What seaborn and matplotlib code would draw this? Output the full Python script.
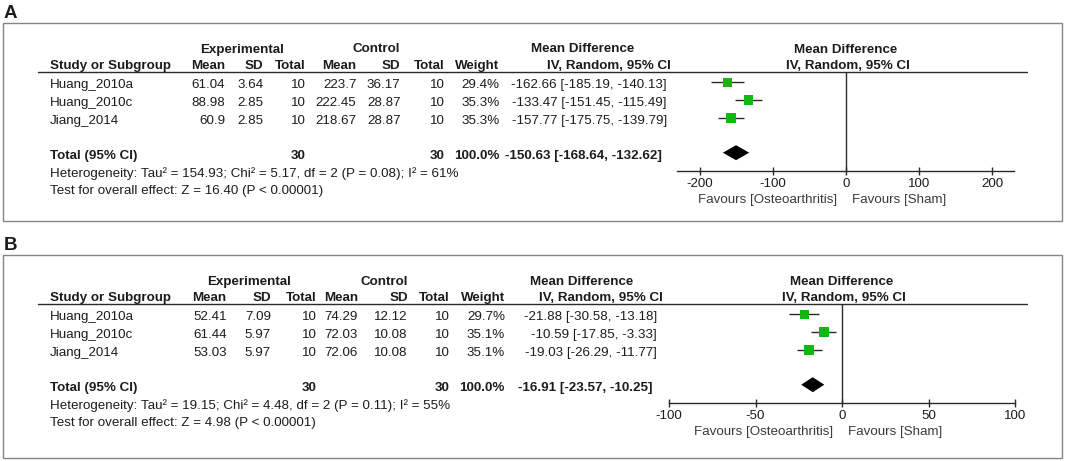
import numpy as np
import seaborn as sns
import matplotlib.pyplot as plt

sns.set_style("white")
plt.rcParams["font.family"] = ["Liberation Sans", "DejaVu Sans"]

W, H = 1065, 461
TXT = "#1c1c1c"
GREEN = "#12b812"
LINE = "#2a2a2a"
FS = 9.6

studies = ["Huang_2010a", "Huang_2010c", "Jiang_2014"]

# panel A
a_exp_mean = [61.04, 88.98, 60.9]
a_exp_sd = [3.64, 2.85, 2.85]
a_exp_n = [10, 10, 10]
a_ctl_mean = [223.7, 222.45, 218.67]
a_ctl_sd = [36.17, 28.87, 28.87]
a_ctl_n = [10, 10, 10]
a_weight = [29.4, 35.3, 35.3]
a_total_weight = 100.0
a_md = [-162.66, -133.47, -157.77]
a_lo = [-185.19, -151.45, -175.75]
a_hi = [-140.13, -115.49, -139.79]
a_total = [-150.63, -168.64, -132.62]
a_het = "Heterogeneity: Tau\u00b2 = 154.93; Chi\u00b2 = 5.17, df = 2 (P = 0.08); I\u00b2 = 61%"
a_test = "Test for overall effect: Z = 16.40 (P < 0.00001)"
a_ticks = [-200, -100, 0, 100, 200]

# panel B
b_exp_mean = [52.41, 61.44, 53.03]
b_exp_sd = [7.09, 5.97, 5.97]
b_exp_n = [10, 10, 10]
b_ctl_mean = [74.29, 72.03, 72.06]
b_ctl_sd = [12.12, 10.08, 10.08]
b_ctl_n = [10, 10, 10]
b_weight = [29.7, 35.1, 35.1]
b_total_weight = 100.0
b_md = [-21.88, -10.59, -19.03]
b_lo = [-30.58, -17.85, -26.29]
b_hi = [-13.18, -3.33, -11.77]
b_total = [-16.91, -23.57, -10.25]
b_het = "Heterogeneity: Tau\u00b2 = 19.15; Chi\u00b2 = 4.48, df = 2 (P = 0.11); I\u00b2 = 55%"
b_test = "Test for overall effect: Z = 4.98 (P < 0.00001)"
b_ticks = [-100, -50, 0, 50, 100]

fig = plt.figure(figsize=(W / 100, H / 100), dpi=100)
bg = fig.add_axes([0, 0, 1, 1])
bg.set_xlim(0, W)
bg.set_ylim(H, 0)
bg.axis("off")


def txt(x, y, s, ha="left", bold=False, size=FS):
    bg.text(x, y, s, ha=ha, va="baseline", fontsize=size, color=TXT,
            fontweight="bold" if bold else "normal")


def draw_panel(label, dy, box_bottom, cols, exp_mean, exp_sd, exp_n, ctl_mean, ctl_sd,
               ctl_n, weight, total_weight, md, lo, hi, total, het, test, ticks,
               ax_px, xlim):
    # frame + panel letter
    bg.add_patch(plt.Rectangle((2.5, 22.7 + dy), 1059.5, box_bottom - 22.7 - dy,
                               fill=False, ec="#858585", lw=1.0))
    txt(4, 17.5 + dy, label, bold=True, size=13.5)

    # headers
    txt(cols["exp_head"], 52.5 + dy, "Experimental", ha="center", bold=True)
    txt(cols["ctl_head"], 52.5 + dy, "Control", ha="center", bold=True)
    txt(cols["md_head"], 52.5 + dy, "Mean Difference", ha="center", bold=True)
    hy = 69 + dy
    txt(49.5, hy, "Study or Subgroup", bold=True)
    for key, name in [("exp_mean", "Mean"), ("exp_sd", "SD"), ("exp_n", "Total"),
                      ("ctl_mean", "Mean"), ("ctl_sd", "SD"), ("ctl_n", "Total"),
                      ("weight", "Weight"), ("iv", "IV, Random, 95% CI")]:
        txt(cols[key], hy, name, ha="right", bold=True)
    bg.plot([38, 1027], [72 + dy, 72 + dy], color=LINE, lw=1.0)

    rows = [82.3 + dy + 18 * i for i in range(len(studies))]
    total_y = 152.7 + dy
    for i, y in enumerate(rows):
        b = y + 6
        txt(49.5, b, studies[i])
        txt(cols["exp_mean"], b, str(exp_mean[i]), ha="right")
        txt(cols["exp_sd"], b, str(exp_sd[i]), ha="right")
        txt(cols["exp_n"], b, str(exp_n[i]), ha="right")
        txt(cols["ctl_mean"], b, str(ctl_mean[i]), ha="right")
        txt(cols["ctl_sd"], b, str(ctl_sd[i]), ha="right")
        txt(cols["ctl_n"], b, str(ctl_n[i]), ha="right")
        txt(cols["weight"], b, f"{weight[i]:.1f}%", ha="right")
        txt(cols["ci"], b, f"{md[i]:.2f} [{lo[i]:.2f}, {hi[i]:.2f}]", ha="right")

    b = total_y + 6
    txt(49.5, b, "Total (95% CI)", bold=True)
    txt(cols["exp_n"], b, str(sum(exp_n)), ha="right", bold=True)
    txt(cols["ctl_n"], b, str(sum(ctl_n)), ha="right", bold=True)
    txt(cols["weight"], b, f"{total_weight:.1f}%", ha="right", bold=True)
    txt(cols["ci_tot"], b, f"{total[0]:.2f} [{total[1]:.2f}, {total[2]:.2f}]",
        ha="right", bold=True)
    txt(49.5, 177.3 + dy, het)
    txt(49.5, 194.4 + dy, test)

    # forest plot
    axis_y = 170.7 + dy
    top_y = 72 + dy
    x0, x1 = ax_px
    ax = fig.add_axes([x0 / W, 1 - axis_y / H, (x1 - x0) / W, (axis_y - top_y) / H])
    ax.patch.set_visible(False)
    ax.set_xlim(*xlim)
    ax.set_ylim(axis_y, top_y)
    ax.axvline(0, color=LINE, lw=1.0, zorder=1)
    ax.hlines(rows, lo, hi, color=LINE, lw=1.0, zorder=2)
    sns.scatterplot(x=md, y=rows, s=[1.4 * w for w in weight], marker="s",
                    color=GREEN, edgecolor="none", ax=ax, legend=False, zorder=3)
    d_h = 7.5
    ax.fill([total[1], total[0], total[2], total[0]],
            [total_y, total_y - d_h, total_y, total_y + d_h],
            color="black", lw=0, zorder=3)

    sns.despine(ax=ax, left=True)
    ax.spines["bottom"].set_color(LINE)
    ax.spines["bottom"].set_linewidth(1.0)
    ax.set_yticks([])
    ax.set_xticks(ticks)
    ax.set_xticklabels([str(t) for t in ticks])
    ax.tick_params(axis="x", bottom=True, direction="inout", length=6, width=1.0,
                   color=LINE, labelsize=FS, labelcolor=TXT, pad=2.5)
    ax.set_xlabel("")
    ax.set_ylabel("")

    ax.annotate("Mean Difference", xy=(0, 1), xycoords=("data", "axes fraction"),
                xytext=(0, 14), textcoords="offset points", ha="center", va="baseline",
                fontsize=FS, fontweight="bold", color=TXT, annotation_clip=False)
    ax.annotate("IV, Random, 95% CI", xy=(0, 1), xycoords=("data", "axes fraction"),
                xytext=(1.5, 2.2), textcoords="offset points", ha="center", va="baseline",
                fontsize=FS, fontweight="bold", color=TXT, annotation_clip=False)
    ax.annotate("Favours [Osteoarthritis]", xy=(0, 0), xycoords=("data", "axes fraction"),
                xytext=(-6.5, -23.4), textcoords="offset points", ha="right", va="baseline",
                fontsize=FS, color="#3a3a3a", annotation_clip=False)
    ax.annotate("Favours [Sham]", xy=(0, 0), xycoords=("data", "axes fraction"),
                xytext=(4.3, -23.4), textcoords="offset points", ha="left", va="baseline",
                fontsize=FS, color="#3a3a3a", annotation_clip=False)


cols_a = dict(exp_mean=225, exp_sd=263.5, exp_n=306, ctl_mean=356.5, ctl_sd=400.5,
              ctl_n=444.5, weight=499.3, ci=667, ci_tot=662, iv=671,
              exp_head=242.5, ctl_head=376, md_head=583)
cols_b = dict(exp_mean=226.7, exp_sd=271, exp_n=316.7, ctl_mean=358, ctl_sd=407.7,
              ctl_n=450, weight=505, ci=657, ci_tot=653, iv=663,
              exp_head=249, ctl_head=384, md_head=582)

draw_panel("A", 0, 221, cols_a, a_exp_mean, a_exp_sd, a_exp_n, a_ctl_mean, a_ctl_sd,
           a_ctl_n, a_weight, a_total_weight, a_md, a_lo, a_hi, a_total, a_het, a_test,
           a_ticks, (677, 1014), (-231.5, 230.1))
draw_panel("B", 232, 458, cols_b, b_exp_mean, b_exp_sd, b_exp_n, b_ctl_mean, b_ctl_sd,
           b_ctl_n, b_weight, b_total_weight, b_md, b_lo, b_hi, b_total, b_het, b_test,
           b_ticks, (669, 1015), (-100, 100))

fig.savefig("out.png", dpi=100)
